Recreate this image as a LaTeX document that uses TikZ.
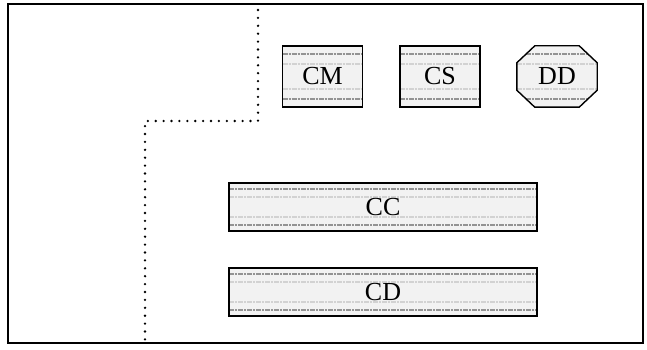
\documentclass[tikz,border=0pt]{standalone}
\usepackage{fontspec}
\setmainfont{Liberation Serif}
\usetikzlibrary{calc}
\begin{document}
\begin{tikzpicture}[x=1pt,y=-1pt,
  stripes/.style={path picture={
    \foreach \f/\c in {0.13/gray!85,0.3/gray!35,0.7/gray!35,0.87/gray!85}{
      \draw[\c, line width=2pt, dash pattern=on 5pt off 1pt on 2pt off 1pt]
        ($(path picture bounding box.north west)!\f!(path picture bounding box.south west)$) --
        ($(path picture bounding box.north east)!\f!(path picture bounding box.south east)$);}
  }},
  lbl/.style={font=\fontsize{26}{26}\selectfont},
  box/.style={draw, line width=1.4pt, fill=gray!10, stripes, inner sep=0pt, lbl},
  smallbox/.style={box, minimum width=80pt, minimum height=61pt},
  widebox/.style={box, minimum width=308pt, minimum height=48pt},
  frame/.style={draw, line width=1.4pt},
  dots/.style={line width=2.6pt, line cap=round, dash pattern=on 0pt off 7.9pt}
]
\useasboundingbox (0,0) rectangle (647,350);
\draw[frame] (8,4) rectangle (643,343);

\coordinate (p1) at (258,10);
\coordinate (p2) at (258,121);
\coordinate (p3) at (145,121);
\coordinate (p4) at (145,343);
\draw[dots] (p1) -- (p2) -- (p3) -- (p4);

\node[smallbox] (CM) at (322.5,76.5) {CM};
\node[smallbox] (CS) at (440,76.5) {CS};
\node[inner sep=0pt, minimum width=80pt, minimum height=61pt] (DDb) at (557,76.5) {};
\draw[line width=1.4pt, fill=gray!10, stripes]
  ([xshift=18pt]DDb.north west) -- ([xshift=-18pt]DDb.north east) --
  ([yshift=-17pt]DDb.north east) -- ([yshift=17pt]DDb.south east) --
  ([xshift=-18pt]DDb.south east) -- ([xshift=18pt]DDb.south west) --
  ([yshift=17pt]DDb.south west) -- ([yshift=-17pt]DDb.north west) -- cycle;
\node[lbl] (DD) at (DDb) {DD};

\node[widebox] (CC) at (383,207) {CC};
\node[widebox] (CD) at (383,292) {CD};
\end{tikzpicture}
\end{document}
